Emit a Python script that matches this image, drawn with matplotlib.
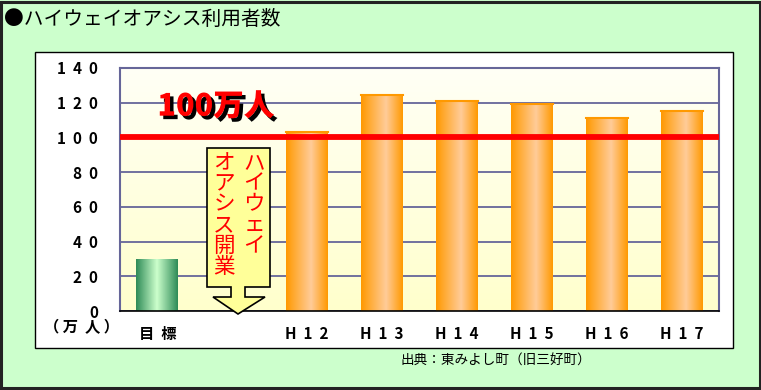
import numpy as np
import matplotlib
matplotlib.use("Agg")
import matplotlib.pyplot as plt
from matplotlib.patches import Rectangle, Polygon
from matplotlib.colors import LinearSegmentedColormap
import matplotlib.patheffects as pe

plt.rcParams['font.family'] = ['Noto Sans CJK JP', 'DejaVu Sans']

categories = ["目  標", "", "H  1  2", "H  1  3", "H  1  4", "H  1  5", "H  1  6", "H  1  7"]
values = [30, 0, 103, 124.5, 121, 119.5, 111, 115]
bar_kind = ["target", "none", "actual", "actual", "actual", "actual", "actual", "actual"]
yticks = [0, 20, 40, 60, 80, 100, 120, 140]
ytick_labels = ["0", "2  0", "4  0", "6  0", "8  0", "1  0  0", "1  2  0", "1  4  0"]
goal_value = 100
title = "●ハイウェイオアシス利用者数"
source = "出典：東みよし町（旧三好町）"
unit = "（ 万  人 ）"
goal_label = "100万人"
open_col_right = "ハイウェイ"
open_col_left = "オアシス開業"

W, H = 761, 390
fig = plt.figure(figsize=(W / 100, H / 100), dpi=100)
fig.patch.set_facecolor('#CCFFCC')

def fx(x):
    return x / W

def fy(y):
    return 1 - y / H

# outer frame
fig.add_artist(Rectangle((fx(1), fy(388)), fx(759), 386 / H, transform=fig.transFigure,
                         fill=False, edgecolor='#222222', lw=2.2, zorder=10))
# white panel
fig.add_artist(Rectangle((fx(35), fy(348)), fx(698), 296 / H, transform=fig.transFigure,
                         facecolor='white', edgecolor='black', lw=1.0, zorder=-1))

fig.text(fx(4), fy(19), title, fontsize=14.2, va='center', ha='left', color='black')
fig.text(fx(591), fy(361), source, fontsize=9.8, va='center', ha='right', color='black')

left, right, top, bottom = 120, 719, 68, 311
ax = fig.add_axes([fx(left), fy(bottom), (right - left) / W, (bottom - top) / H])
ax.set_xlim(-0.5, len(categories) - 0.5)
ax.set_ylim(0, 140)
ax.set_facecolor('none')

# background gradient
bg = LinearSegmentedColormap.from_list('bg', ['#FFFFCC', '#FFFFF6'])
ax.imshow(np.linspace(0, 1, 256).reshape(-1, 1), cmap=bg, aspect='auto',
          extent=[-0.5, len(categories) - 0.5, 0, 140], origin='lower', zorder=0)

ax.set_yticks(yticks)
ax.set_yticklabels(ytick_labels, fontsize=11, fontweight='bold')
ax.yaxis.grid(True, color='#666699', lw=1.3)
ax.set_axisbelow(True)
ax.set_xticks(range(len(categories)))
ax.set_xticklabels(categories, fontsize=11, fontweight='bold')
ax.tick_params(axis='y', length=0, pad=16)
ax.tick_params(axis='x', length=0, pad=11)
for s in ['left', 'right', 'top']:
    ax.spines[s].set_color('#666699')
    ax.spines[s].set_linewidth(1.5)
ax.spines['bottom'].set_color('black')
ax.spines['bottom'].set_linewidth(1.2)

orange = LinearSegmentedColormap.from_list('or', [(0, '#FF9900'), (0.6, '#FFCC99'), (1, '#FF9900')])
green = LinearSegmentedColormap.from_list('gr', [(0, '#2E8B57'), (0.5, '#CCFFCC'), (1, '#2E8B57')])

x = np.arange(len(categories))
bars = ax.bar(x, values, width=0.56, color='none', edgecolor='none', zorder=2)
grad = np.linspace(0, 1, 256).reshape(1, -1)
for b, kind in zip(bars, bar_kind):
    if kind == "none":
        continue
    cm = green if kind == "target" else orange
    x0, y0 = b.get_x(), b.get_y()
    w, h = b.get_width(), b.get_height()
    im = ax.imshow(grad, cmap=cm, aspect='auto', extent=[x0, x0 + w, y0, y0 + h], zorder=2)
    im.set_clip_path(b)
    if kind == "actual":
        ax.plot([x0, x0 + w], [y0 + h, y0 + h], color='#FF9900', lw=1.5, zorder=3)

ax.axhline(goal_value, color='#FF0000', lw=4.2, zorder=4)

# goal label
ax.text(0.78, 118, goal_label, fontsize=22, fontweight='heavy', color='#FF0000',
        ha='center', va='center', zorder=6,
        path_effects=[pe.SimplePatchShadow(offset=(2.5, -2.5), shadow_rgbFace='black', alpha=1),
                      pe.Normal()])

ax.set_xlim(-0.5, len(categories) - 0.5)
ax.set_ylim(0, 140)

fig.text(fx(82), fy(327), unit, fontsize=11, fontweight='bold', ha='center', va='center')

# arrow callout (figure pixels)
arrow_px = [(207, 148), (270, 148), (270, 287), (245, 287), (245, 297), (265, 297),
            (238, 314), (213, 297), (231, 297), (231, 287), (207, 287)]
fig.add_artist(Polygon([(fx(a), fy(b)) for a, b in arrow_px], closed=True,
                       transform=fig.transFigure, facecolor='#FFFF99',
                       edgecolor='black', lw=1.2, zorder=5))
fig.text(fx(254), fy(152), "\n".join(open_col_right), fontsize=15.5, color='#FF0000',
         ha='center', va='top', linespacing=0.93, zorder=6)
fig.text(fx(224), fy(152), "\n".join(open_col_left), fontsize=15.5, color='#FF0000',
         ha='center', va='top', linespacing=0.93, zorder=6)

fig.savefig('out.png', dpi=100, facecolor=fig.get_facecolor())
